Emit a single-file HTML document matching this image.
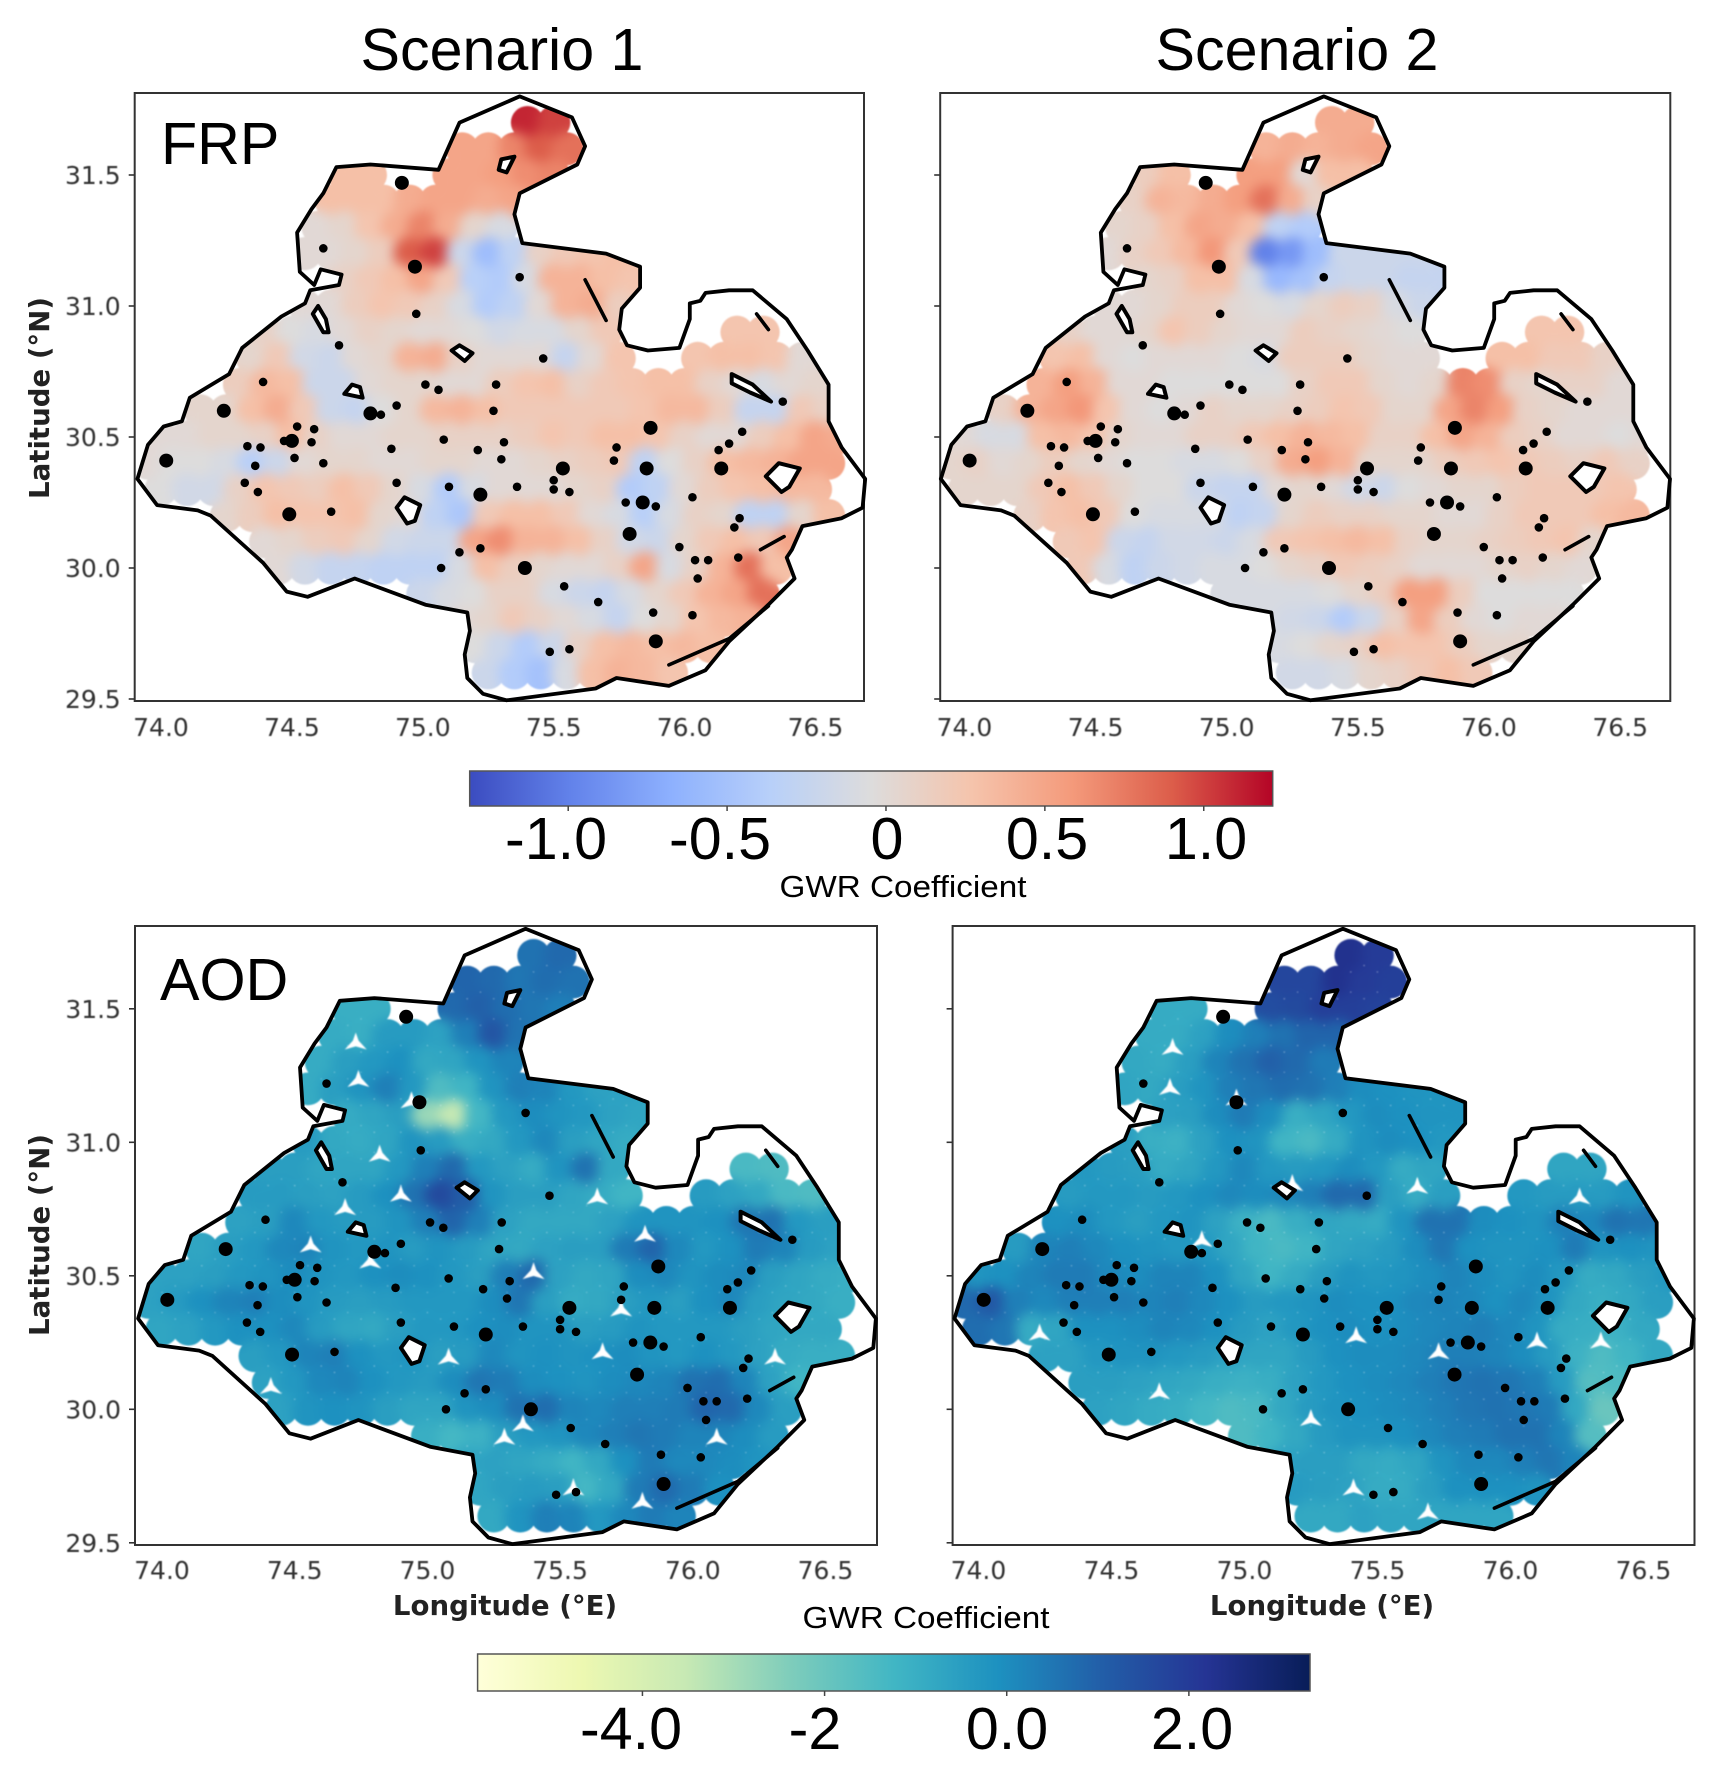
<!DOCTYPE html>
<html lang="en">
<head>
<meta charset="utf-8">
<title>GWR coefficient maps</title>
<style>
html,body{margin:0;padding:0;background:#fff}
svg{display:block}
text{font-family:"Liberation Sans",sans-serif;fill:#000}
.tick{font-family:"DejaVu Sans",sans-serif;font-size:25px;fill:#333}
.axis{font-family:"DejaVu Sans",sans-serif;font-weight:bold;font-size:27.6px;fill:#222}
.big{font-size:59.2px}
.cap{font-size:31px}
</style>
</head>
<body>
<svg id="fig" width="1723" height="1778" viewBox="0 0 1723 1778" xmlns="http://www.w3.org/2000/svg">
  <defs>
    <filter id="soft" color-interpolation-filters="sRGB" x="-5%" y="-5%" width="110%" height="110%">
      <feGaussianBlur in="SourceGraphic" stdDeviation="6" result="wide"/>
      <feComponentTransfer in="wide" result="opaque"><feFuncA type="linear" slope="30"/></feComponentTransfer>
      <feComposite in="opaque" in2="SourceAlpha" operator="in" result="shaped"/>
      <feGaussianBlur in="shaped" stdDeviation="0.8"/>
    </filter>
    <filter id="softText" x="-5%" y="-20%" width="110%" height="140%"><feGaussianBlur stdDeviation="0.45"/></filter>
    <filter id="softGap" x="-10%" y="-10%" width="120%" height="120%"><feGaussianBlur stdDeviation="0.9"/></filter>
    <linearGradient id="grad-frp"></linearGradient>
    <linearGradient id="grad-aod"></linearGradient>
  </defs>
  <text class="big" x="502" y="70" text-anchor="middle">Scenario 1</text>
  <text class="big" x="1297" y="70" text-anchor="middle">Scenario 2</text>
  <g id="panels"></g>
  <text class="big" x="161" y="164">FRP</text>
  <text class="big" x="160" y="1000">AOD</text>
  <text class="axis" text-anchor="middle" transform="translate(49,398) rotate(-90)">Latitude (°N)</text>
  <text class="axis" text-anchor="middle" transform="translate(49,1235) rotate(-90)">Latitude (°N)</text>
  <text class="axis" text-anchor="middle" x="505" y="1615">Longitude (°E)</text>
  <text class="axis" text-anchor="middle" x="1322" y="1615">Longitude (°E)</text>
  <text class="cap" x="903" y="897" text-anchor="middle" textLength="247" lengthAdjust="spacingAndGlyphs">GWR Coefficient</text>
  <text class="cap" x="926" y="1628" text-anchor="middle" textLength="247" lengthAdjust="spacingAndGlyphs">GWR Coefficient</text>
  <g id="bars"></g>
</svg>
<script>
const xTicks = [74.0, 74.5, 75.0, 75.5, 76.0, 76.5];
const yTicks = [29.5, 30.0, 30.5, 31.0, 31.5];

const boundary = [[75.37,31.80],[75.57,31.72],[75.62,31.61],[75.59,31.54],[75.37,31.43],[75.35,31.35],[75.38,31.24],[75.70,31.20],[75.83,31.15],[75.83,31.07],[75.76,30.99],[75.75,30.91],[75.78,30.85],[75.86,30.83],[75.98,30.84],[76.02,30.95],[76.02,31.01],[76.06,31.02],[76.08,31.05],[76.17,31.06],[76.26,31.06],[76.39,30.95],[76.47,30.83],[76.55,30.70],[76.55,30.56],[76.60,30.46],[76.69,30.34],[76.68,30.23],[76.60,30.19],[76.45,30.16],[76.41,30.07],[76.39,30.04],[76.42,29.96],[76.32,29.86],[76.17,29.72],[76.08,29.61],[75.94,29.55],[75.74,29.58],[75.66,29.54],[75.32,29.495],[75.23,29.52],[75.17,29.58],[75.16,29.67],[75.18,29.76],[75.17,29.83],[75.01,29.86],[74.74,29.96],[74.56,29.89],[74.48,29.91],[74.39,30.02],[74.19,30.20],[74.14,30.22],[73.985,30.24],[73.91,30.34],[73.95,30.47],[74.01,30.54],[74.08,30.56],[74.11,30.65],[74.26,30.74],[74.31,30.84],[74.46,30.96],[74.55,31.01],[74.57,31.06],[74.68,31.08],[74.69,31.12],[74.61,31.14],[74.585,31.08],[74.53,31.13],[74.52,31.28],[74.575,31.37],[74.62,31.43],[74.67,31.53],[74.80,31.54],[75.06,31.52],[75.14,31.70]];

const ringLakes = [
 [[75.29,31.52],[75.30,31.56],[75.35,31.57],[75.32,31.51]],
 [[74.58,30.97],[74.62,30.90],[74.64,30.90],[74.63,30.95],[74.60,31.0]],
 [[74.70,30.665],[74.73,30.70],[74.76,30.69],[74.77,30.65]],
 [[75.11,30.83],[75.14,30.85],[75.19,30.82],[75.16,30.79]],
 [[74.90,30.23],[74.93,30.27],[74.99,30.24],[74.97,30.18],[74.94,30.17]],
 [[76.31,30.35],[76.36,30.40],[76.44,30.38],[76.40,30.31],[76.37,30.29]],
 [[76.18,30.74],[76.26,30.70],[76.33,30.635],[76.25,30.67],[76.18,30.705]]
];
const lineFeatures = [
 [[75.62,31.10],[75.70,30.945]],
 [[76.275,30.97],[76.32,30.91]],
 [[76.29,30.07],[76.38,30.12]],
 [[75.94,29.63],[76.17,29.73],[76.32,29.855]]
];
const largeLakes = [[74.97,31.15],[74.92,31.47],[74.24,30.60],[75.87,30.535],[74.02,30.41],[75.535,30.38],[75.855,30.38],[76.14,30.38],[75.22,30.28],[74.49,30.205],[75.84,30.25],[75.39,30.00],[75.89,29.72],[74.50,30.485],[74.80,30.59],[75.79,30.13]];
const smallLakes = [[74.62,31.22],[75.37,31.11],[74.975,30.97],[75.46,30.80],[74.39,30.71],[75.01,30.70],[75.06,30.68],[75.28,30.70],[74.68,30.85],[74.90,30.62],[74.84,30.585],[75.27,30.60],[74.52,30.54],[74.585,30.53],[74.47,30.485],[74.575,30.48],[74.33,30.465],[74.38,30.46],[75.08,30.49],[75.31,30.48],[74.88,30.455],[75.21,30.45],[75.30,30.415],[74.51,30.42],[74.62,30.40],[74.36,30.39],[75.74,30.46],[75.73,30.41],[76.17,30.475],[76.13,30.45],[76.22,30.52],[76.375,30.635],[75.50,30.335],[75.50,30.30],[75.56,30.29],[75.36,30.31],[74.90,30.325],[75.10,30.31],[74.32,30.325],[74.37,30.29],[74.65,30.215],[75.775,30.25],[75.89,30.235],[76.03,30.27],[76.21,30.19],[76.19,30.155],[75.98,30.08],[75.22,30.075],[75.14,30.06],[75.07,30.0],[76.04,30.03],[76.09,30.03],[76.05,29.96],[76.205,30.04],[75.54,29.93],[75.67,29.87],[75.88,29.83],[76.03,29.82],[75.485,29.68],[75.56,29.69]];

const aodScenario1Gaps = [[74.73,31.37],[74.74,31.23],[74.94,31.15],[74.82,30.95],[74.90,30.80],[74.69,30.75],[74.56,30.61],[74.785,30.55],[75.40,30.51],[75.64,30.79],[75.73,30.37],[75.66,30.21],[75.08,30.19],[75.29,29.89],[75.55,29.70],[75.81,29.65],[75.82,30.65],[76.31,30.19],[74.41,30.08],[76.09,29.89],[75.36,29.94]];
const aodScenario2Gaps = [[74.73,31.35],[74.72,31.20],[75.65,30.83],[74.84,30.63],[75.42,30.27],[75.73,30.21],[76.10,30.25],[76.26,30.79],[75.25,29.96],[75.41,29.70],[75.69,29.61],[74.68,30.06],[74.23,30.28],[76.34,30.25],[74.97,31.16],[75.18,30.84]];
const noGaps = [];

const rowLats = [31.7,31.6,31.5,31.4,31.3,31.2,31.1,31.0,30.9,30.8,30.7,30.6,30.5,30.4,30.3,30.2,30.1,30.0,29.9,29.8,29.7,29.6];
const rowStartLons = [75.4,75.15,74.7,74.65,74.6,74.55,74.7,74.55,74.4,74.35,74.3,74.15,74.0,73.95,74.0,74.25,74.4,74.45,75.0,75.15,75.2,75.25];

const frpScenario1 = [
[1.1,1.0],
[.5,.5,.7,.9,.8],
[.3,.3,null,null,.5,.5,.55,.65,.7],
[.3,.3,.3,.45,.5,.5,.45,.5],
[0,.05,.25,.45,.7,.45,.05,-.1],
[0,0,.05,.15,.9,1.0,-.2,-.55,-.3,.1,.2,.25,.3],
[.1,.2,.3,.5,.2,-.35,-.4,-.1,.4,.4,.3,.25],
[0,0,.15,.25,.2,.1,-.1,-.4,-.3,0,.4,.45,.15],
[.1,-.05,-.1,0,.1,.05,0,0,-.05,-.15,-.1,-.1,.05,.2,null,null,null,null,.25,.25],
[.05,.2,-.15,-.2,0,.05,.4,.45,.1,0,0,0,-.25,0,.25,null,null,.25,.3,.3,.25,0],
[.15,.35,.3,-.2,-.2,0,.05,.05,0,0,.15,.25,.3,.1,.2,.25,.3,.3,.1,0,-.1,0,.05],
[.05,.05,.3,.45,.2,-.2,-.25,-.05,.05,.35,.4,.3,.2,.2,.2,.2,.2,.25,.35,.35,.15,-.25,-.25,.2,.1],
[0,0,.05,.05,.1,.3,.1,0,0,.05,.05,.1,.1,.1,.15,.25,.2,.3,.3,.25,.1,0,0,.15,.3,.5,.45],
[0,-.05,-.05,-.1,-.35,-.2,0,.05,.05,0,0,.05,.05,0,0,.05,.1,.15,.2,-.3,-.05,.1,.3,.35,.4,.5,.5],
[-.05,-.15,-.15,.1,.25,.2,.15,.3,.2,.05,-.1,-.4,-.1,0,0,0,.05,.1,-.4,-.3,0,.15,.25,.3,.35,.35],
[.05,.15,.3,.25,.25,.3,.05,0,-.3,-.45,.2,.3,.3,.2,0,-.1,-.35,-.1,.1,.05,-.3,-.3,.05,.3],
[0,.05,.15,.2,.05,-.15,-.2,-.2,.5,.65,.4,.4,.3,.1,-.15,-.2,.05,.2,.3,.2,.5],
[0,-.15,-.25,-.25,-.3,-.3,-.3,-.1,.3,.15,.05,0,0,.1,.5,-.1,.1,.4,.8,.3],
[-.2,-.1,-.05,.1,.1,-.1,-.2,-.25,-.1,.05,.2,.4,.5,.8],
[0,.05,.2,.1,0,-.1,-.25,-.05,.05,.25,.35,.4],
[-.05,-.2,-.4,-.2,.1,.3,.35,.3,.35,.3],
[-.2,-.4,-.5,-.1,.3,.4,.35,.25]
];
const frpScenario2 = [
[.45,.45],
[.4,.45,.4,.45,.5],
[.15,.3,null,null,.55,.55,0,.3,.3],
[.1,.4,.35,.45,.55,.8,.45,.1],
[.05,.1,.3,.5,.45,.3,-.3,-.4],
[0,.1,.2,.35,.6,.2,-1.0,-.85,-.55,-.2,-.2,-.2,-.2],
[.05,.1,.3,.3,-.1,-.6,-.5,-.25,-.2,-.2,-.25,-.25],
[0,0,.05,.15,.15,0,-.05,-.1,.05,.15,.1,-.1,-.2],
[.1,0,0,.05,.25,.15,.05,0,0,.15,.1,.05,0,-.05,null,null,null,null,.25,.25],
[.25,.3,0,-.05,0,0,0,-.05,-.1,.15,.15,.15,.05,0,0,null,null,.3,.3,.2,.2,.1],
[.4,.55,.4,0,0,-.05,-.05,-.05,-.05,-.05,.1,.2,.2,.05,0,.05,.7,.65,.1,.05,.1,.1,0],
[.1,.4,.5,.6,.25,0,-.05,0,.1,.05,.05,.1,.15,.25,.2,.05,.05,.5,.7,.55,.1,.05,0,0,0],
[0,-.1,-.1,.3,.35,.25,.05,0,0,.1,.1,.2,.3,.4,.35,.3,.1,.1,.3,.5,.4,.15,.1,0,0,-.05,0],
[.05,.1,0,.05,.15,.05,0,-.05,-.05,-.1,-.1,-.05,.1,.45,.55,.4,.05,.05,.05,.15,.2,.25,.2,.15,.1,.2,.1],
[.05,.05,.05,.2,.3,.2,.05,-.05,-.05,-.2,-.25,-.25,0,.05,0,-.15,-.2,-.05,0,.05,.05,.15,.2,.2,.2,.25],
[.1,.25,.3,.2,-.05,-.1,-.1,-.1,-.3,-.25,.05,.15,.1,.1,.05,.05,0,0,.1,.2,.2,.2,.3,.35],
[.2,.25,-.2,-.25,-.15,-.15,-.2,-.1,.2,.25,.3,.35,.3,.1,.05,.05,.1,.15,.2,.25,.05],
[.2,-.1,-.3,-.2,-.15,-.1,-.1,-.05,.05,.1,.2,.15,.1,0,0,0,.05,.1,.05,0],
[-.1,-.1,-.1,-.1,-.05,.05,.15,.55,.55,.15,-.05,-.05,-.05,-.05],
[-.1,-.15,-.2,-.4,-.2,.1,.5,.15,0,-.05,0,0],
[-.1,-.05,.05,.1,.3,.25,.25,.15,.05,.05],
[-.15,-.15,-.1,.05,.1,.2,.3,.2]
];
const aodScenario1 = [
[.6,.8],
[.9,.8,.5,.7,.6],
[-1,-1,null,null,.8,1.0,.7,.5,.3],
[-.9,-1,-.4,-.4,-.6,.3,1.3,.6],
[-.9,-.5,-.3,-.1,-.8,-.7,-.2,.2],
[-.9,-.5,-.2,.3,-.3,-1.5,-1.2,-.2,.3,.2,-.3,-.6,-.6],
[-.9,-.7,-.5,-2.8,-3.5,-1.3,-.3,0,-.2,-.3,-.6,-.7],
[-.4,-.8,-.9,-.7,-.2,-.4,-1,-.8,-.3,.1,-.5,-.7,-.9],
[-.5,-.5,-.7,-.7,-.7,-.3,.3,.8,-.3,-.6,-.9,-.2,.6,-.8,null,null,null,null,-1.4,-1.5],
[-.4,-.4,-.5,-.6,-.4,-.1,.6,1.6,1.1,-.2,-.5,-.5,-.7,-.9,-1.2,null,null,-.4,-.6,-.8,-1.4,-1.5],
[-.6,-.5,.1,-.3,-.4,-.4,-.2,.3,.9,.3,-.6,-.8,-.8,-.8,-.6,-.2,-.2,-.2,-.1,.5,.6,-.3,-.5],
[-.7,-.5,-.3,.1,.2,-.2,-.3,-.2,-.4,-.2,-.4,-.7,-.8,-.6,-.5,-.5,.4,.9,.1,-.3,-.1,.4,.2,-.4,-.6],
[-.6,-.6,-.5,-.3,-.2,0,-.2,-.3,-.1,0,-.1,-.3,-.5,.3,.8,-.6,-.8,-.7,0,.1,-.2,0,.1,-.5,-.7,-.9,-1],
[-.6,-.4,-.1,.2,.3,0,-.2,-.4,-.5,-.4,-.3,-.3,-.3,0,.5,-.5,-.9,-.8,-.5,-.3,-.5,-.1,.1,-.5,-.7,-.8,-1],
[-.7,-.6,-.3,-.1,-.1,.1,-.4,-.7,-.8,-.5,-.3,-.3,-.1,0,-.2,-.2,-.5,-.4,-.2,-.3,-.3,-.3,-.5,-.7,-.8,-.8],
[null,-.5,-.3,.2,.3,-.1,-.3,-.2,-.5,-.4,.1,-.2,-.1,-.2,-.1,0,-.2,-.3,-.1,-.3,-.6,-.9,-1,-1],
[-.6,-.3,.1,.2,-.1,-.3,-.4,0,.5,.4,0,-.1,-.2,0,.1,.2,.6,.7,.2,-.6,-1.2],
[-.6,-.2,-.1,-.2,-.5,-.7,-.7,-.2,0,.6,.7,.2,.1,.3,.3,.4,.9,.8,.1,-.5],
[-1,-1.3,-1.1,-.5,-.3,-.2,.1,.3,.5,.4,.2,.2,0,-.4],
[-.7,-.6,-.7,-.9,-1.2,-.8,-.1,.4,.1,.1,0,-.2],
[-.7,-.5,-.4,-.5,-1.3,-.8,.4,.8,.4,-.1],
[-.8,-.2,.3,.2,-.3,.1,.4,.2]
];
const aodScenario2 = [
[2.3,2.0],
[1.7,1.7,2.3,2.0,1.9],
[-.9,-.9,null,null,1.5,1.6,1.9,1.9,1.8],
[-.9,-.9,-.6,0,.3,.6,.9,.9],
[-.8,-.9,-.5,.2,.6,1.0,.8,.4],
[-.7,-.8,-.5,-.2,.3,.5,.7,.6,.3,0,-.1,-.2,-.2],
[-.6,-.5,0,.4,0,-1,-.7,-.3,0,-.1,-.2,-.2],
[-.5,-1,-1.1,-.6,-.1,-.2,-1.2,-1.4,-.9,-.2,0,-.1,-.3],
[-.3,-.4,-.5,-.9,-.7,-.3,.1,-.3,-.4,-.3,0,-.3,-.9,-.7,null,null,null,null,-.7,-.7],
[-.4,-.3,-.3,-.4,-.3,-.1,.1,0,.1,.3,.8,.8,-.5,-.9,-.5,null,null,-.3,-.4,-.4,-.4,-.2],
[-.1,0,-.3,-.5,-.3,-.2,-.6,-1.1,-1.4,-1,-.7,-.8,-.9,-.2,.6,.6,0,-.1,-.2,.3,.1,.6,.5],
[-.4,.2,.3,.1,-.1,-.2,-.3,-.3,-.7,-1.2,-1.4,-1.2,-.7,-.6,-.4,0,.5,-.1,-.2,-.2,-.1,.4,-.2,-.1,-.2],
[-.2,-.1,.2,.4,.4,.1,0,.2,.2,-.1,-.7,-1.2,-.9,-.5,-.2,-.3,-.2,0,.2,0,-.2,0,-.3,-.9,-.8,-.5,-.3],
[.8,1.2,.3,.1,.3,.3,.3,.2,.3,.1,-.1,-.4,-.3,-.2,0,-.1,-.1,.1,.2,.1,-.1,.1,-.2,-.8,-1,-.8,-.5],
[.7,.5,-.9,-.7,-.1,-.1,0,.2,.1,-.1,-.4,-.6,-.3,-.1,0,-.1,0,.1,.2,.3,.1,-.2,-.9,-1,-1.1,-.8],
[-.6,-.6,-.3,-.2,-.2,-.3,-.4,-.6,-.7,-.7,-.4,-.1,0,0,.1,.3,.3,.2,0,-.4,-1.1,-1.5,-1.2,-.8],
[-.5,-.5,-.6,-.7,-.8,-1,-1.1,-1,-.6,-.3,-.1,0,.1,.3,.5,.6,.5,.3,-.4,-1.6,-1.5],
[-.6,-.7,-.9,-1,-1.3,-1.5,-1.4,-.8,-.4,-.2,-.1,0,.1,.3,.5,.6,.5,.4,-.8,-2],
[-1.5,-1.2,-.8,-.4,-.2,-.2,-.1,.1,.3,.4,.6,.6,.2,-1.6],
[-.6,-.5,-.5,-.8,-.9,-.7,-.2,.1,.1,.3,.5,.2],
[-.4,-.5,-.6,-.9,-.9,-.5,-.1,-.1,-.1,-.2],
[-.8,-.8,-.6,-.7,-.7,-.7,-.7,-.7]
];

const frpBarTicks = [-1.0,-0.5,0,0.5,1.0];
const frpBarLabels = ["-1.0","-0.5","0","0.5","1.0"];
const aodBarTicks = [-4,-2,0,2];
const aodBarLabels = ["-4.0","-2","0.0","2.0"];

const frpRange = [-1.31, 1.217];
const aodRange = [-5.81, 3.33];
const coolwarm = ["#3b4cc0","#6282ea","#8db0fe","#b8d0f9","#dddcdc","#f5c4ac","#f49a7b","#dc5d4a","#b40426"];
const ylGnBu = ["#ffffd9","#edf8b1","#c7e9b4","#7fcdbb","#41b6c4","#1d91c0","#225ea8","#253494","#081d58"];

const NS = "http://www.w3.org/2000/svg";
function make(tag, attrs, parent){
  const el = document.createElementNS(NS, tag);
  for (const k in attrs) el.setAttribute(k, attrs[k]);
  parent.appendChild(el);
  return el;
}
function hexRgb(h){ return [1,3,5].map(i => parseInt(h.substr(i,2),16)); }
function sample(stops, t){
  t = Math.max(0, Math.min(1, t));
  const p = t*(stops.length-1), i = Math.min(Math.floor(p), stops.length-2), f = p-i;
  const a = hexRgb(stops[i]), b = hexRgb(stops[i+1]);
  return "rgb(" + a.map((v,j) => Math.round(v+(b[j]-v)*f)).join(",") + ")";
}
function colorFor(value, stops, range){
  return sample(stops, (value-range[0])/(range[1]-range[0]));
}
function gapPath(cx, cy, size){
  const a = size, b = size*0.26;
  return "M"+cx+" "+(cy-a)+"L"+(cx+b)+" "+(cy-b)+"L"+(cx+a)+" "+(cy+a*0.55)+"L"+cx+" "+(cy+b)+"L"+(cx-a)+" "+(cy+a*0.55)+"L"+(cx-b)+" "+(cy-b)+"Z";
}

function drawPanel(id, box, values, gaps, gapSize, stops, range, dotRadius, showYLabels){
  const root = document.getElementById("panels");
  const g = make("g", {}, root);
  
  
  const sx = lon => box.x74 + (lon-74)*box.xScale;
  const sy = lat => box.y295 - (lat-29.5)*box.yScale;
  const pathOf = (pts, close) => pts.map((p,i) => (i?"L":"M")+sx(p[0]).toFixed(1)+" "+sy(p[1]).toFixed(1)).join("")+(close?"Z":"");

  const clip = make("clipPath", {id:"clip-"+id}, g);
  
  
  const clipShape = make("path", {d:pathOf(boundary,true)}, clip);
  
  

  const dots = make("g", {"clip-path":"url(#clip-"+id+")"}, g);
  
  
  const inner = make("g", {filter:"url(#soft)"}, dots);
  
  
  values.forEach((row, r) => {
    row.forEach((v, c) => {
      if (v === null) return;
      const dot = make("circle", {cx:sx(rowStartLons[r]+0.1*c).toFixed(1), cy:sy(rowLats[r]).toFixed(1), r:dotRadius, fill:colorFor(v,stops,range)}, inner);
      
      
    });
  });
  const gapLayer = make("g", {filter:"url(#softGap)"}, dots);
  
  
  gaps.forEach(p => {
    const gap = make("path", {d:gapPath(sx(p[0]), sy(p[1]), gapSize), fill:"#fff"}, gapLayer);
    
    
  });

  const frame = make("rect", {x:box.left, y:box.top, width:box.right-box.left, height:box.bottom-box.top, fill:"none", stroke:"#333", "stroke-width":2}, g);
  
  

  const outline = make("path", {d:pathOf(boundary,true), fill:"none", stroke:"#000", "stroke-width":3.8, "stroke-linejoin":"round"}, g);
  
  

  ringLakes.forEach(poly => {
    const ring = make("path", {d:pathOf(poly,true), fill:"#fff", stroke:"#000", "stroke-width":4, "stroke-linejoin":"round"}, g);
    
    
  });
  lineFeatures.forEach(line => {
    const seg = make("path", {d:pathOf(line,false), fill:"none", stroke:"#000", "stroke-width":3.6, "stroke-linecap":"round"}, g);
    
    
  });
  largeLakes.forEach(p => {
    const d = make("circle", {cx:sx(p[0]), cy:sy(p[1]), r:7, fill:"#000"}, g);
    
    
  });
  smallLakes.forEach(p => {
    const d = make("circle", {cx:sx(p[0]), cy:sy(p[1]), r:4.3, fill:"#000"}, g);
    
    
  });

  const labels = make("g", {filter:"url(#softText)"}, g);
  
  
  xTicks.forEach(t => {
    const label = make("text", {x:sx(t), y:box.xLabelY, "text-anchor":"middle", class:"tick"}, labels);
    
    
    label.textContent = t.toFixed(1);
  });
  yTicks.forEach(t => {
    const mark = make("line", {x1:box.left-6, x2:box.left, y1:sy(t), y2:sy(t), stroke:"#333", "stroke-width":1.6}, g);
    
    
    if (showYLabels){
      const label = make("text", {x:box.left-14, y:sy(t)+9, "text-anchor":"end", class:"tick"}, labels);
      
      
      label.textContent = t.toFixed(1);
    }
  });
}

function drawColorbar(id, box, stops, range, ticks, labels, labelCenters){
  const grad = document.getElementById("grad-"+id);
  for (let i=0;i<=24;i++){
    const t = i/24;
    const st = make("stop", {offset:t, "stop-color":sample(stops,t)}, grad);
    
    
  }
  const root = document.getElementById("bars");
  const bar = make("rect", {x:box.left, y:box.top, width:box.right-box.left, height:box.bottom-box.top, fill:"url(#grad-"+id+")", stroke:"#555", "stroke-width":1.5}, root);
  
  
  const scale = v => box.left + (v-range[0])/(range[1]-range[0])*(box.right-box.left);
  ticks.forEach((t,i) => {
    const mark = make("line", {x1:scale(t), x2:scale(t), y1:box.bottom, y2:box.bottom+5, stroke:"#444", "stroke-width":1.5}, root);
    
    
    const label = make("text", {x:labelCenters[i], y:box.labelY, "text-anchor":"middle", class:"big"}, root);
    
    
    label.textContent = labels[i];
  });
}

drawPanel("frp-scenario-1", {left:134.7,right:864,top:93,bottom:701,x74:161,xScale:261.8,y295:699,yScale:262,xLabelY:736}, frpScenario1, noGaps, 0, coolwarm, frpRange, 16.6, true);
drawPanel("frp-scenario-2", {left:940.2,right:1670.3,top:93,bottom:701,x74:964.4,xScale:262.3,y295:699,yScale:262,xLabelY:736}, frpScenario2, noGaps, 0, coolwarm, frpRange, 16.6, false);
drawPanel("aod-scenario-1", {left:135,right:877,top:926,bottom:1545,x74:162,xScale:265.4,y295:1542.8,yScale:267,xLabelY:1579}, aodScenario1, aodScenario1Gaps, 11, ylGnBu, aodRange, 16.4, true);
drawPanel("aod-scenario-2", {left:952.6,right:1694.5,top:926,bottom:1545,x74:978.4,xScale:266,y295:1542.8,yScale:267,xLabelY:1579}, aodScenario2, aodScenario2Gaps, 11, ylGnBu, aodRange, 16.4, false);
drawColorbar("frp", {left:469.7,right:1272.7,top:771,bottom:806,labelY:859}, coolwarm, frpRange, frpBarTicks, frpBarLabels, [556,720,887,1047,1206]);
drawColorbar("aod", {left:477.6,right:1310,top:1654,bottom:1691,labelY:1749}, ylGnBu, aodRange, aodBarTicks, aodBarLabels, [631,815,1007,1192]);
</script>
</body>
</html>
